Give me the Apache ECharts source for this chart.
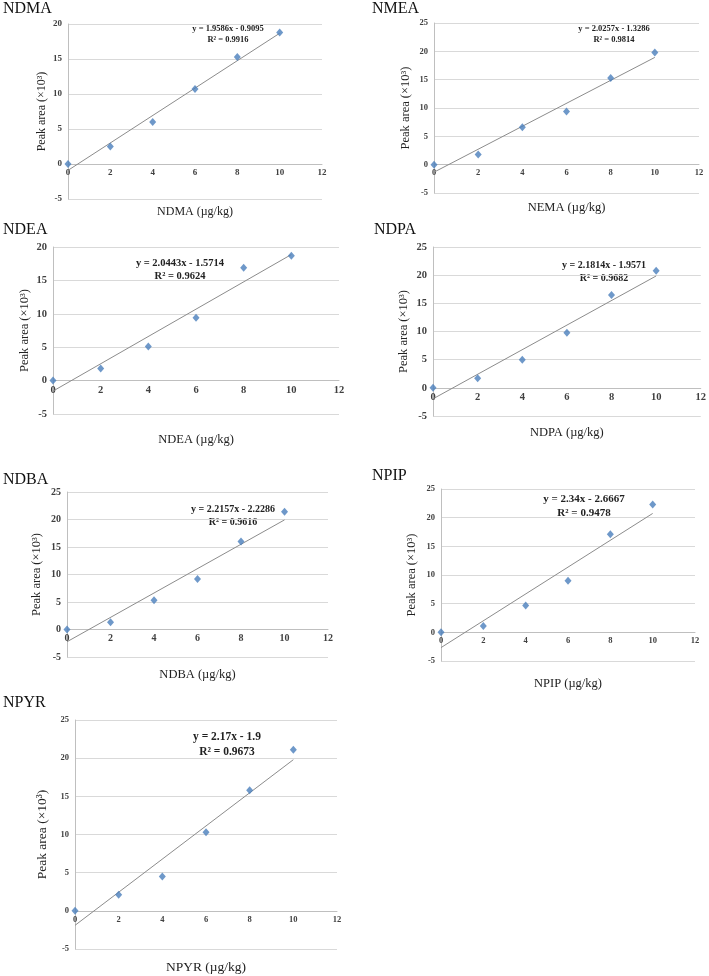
<!DOCTYPE html>
<html>
<head>
<meta charset="utf-8">
<script src="https://cdn.jsdelivr.net/npm/echarts@6/dist/echarts.min.js"></script>
<style>
  html, body { margin: 0; padding: 0; background: #fff; }
  #main { width: 709px; height: 976px; }
</style>
</head>
<body>
<div id="main"></div>
<script>
// ********
// * Data *
// ********

// Spiked concentration (µg/kg), same for every analyte
const concentrations = [0, 2, 4, 6, 8, 10];

const analyteNames = ["NDMA", "NMEA", "NDEA", "NDPA", "NDBA", "NPIP", "NPYR"];
const xAxisNames = [
  "NDMA (µg/kg)", "NEMA (µg/kg)", "NDEA (µg/kg)", "NDPA (µg/kg)",
  "NDBA (µg/kg)", "NPIP (µg/kg)", "NPYR (µg/kg)",
];

// Peak area (x10^3)
const ndmaArea = [0, 2.5, 6.0, 10.7, 15.3, 18.8];
const nmeaArea = [0, 1.8, 6.6, 9.4, 15.3, 19.8];
const ndeaArea = [0, 1.8, 5.1, 9.4, 16.9, 18.7];
const ndpaArea = [0, 1.7, 5.0, 9.8, 16.5, 20.8];
const ndbaArea = [0, 1.3, 5.3, 9.2, 16.0, 21.4];
const npipArea = [0, 1.1, 4.7, 9.0, 17.1, 22.3];
const npyrArea = [0, 2.1, 4.5, 10.3, 15.8, 21.1];
const peakAreas = [ndmaArea, nmeaArea, ndeaArea, ndpaArea, ndbaArea, npipArea, npyrArea];

// Linear fit y = slope * x + intercept
const slopes = [1.9586, 2.0257, 2.0443, 2.1814, 2.2157, 2.34, 2.17];
const intercepts = [-0.9095, -1.3286, -1.5714, -1.9571, -2.2286, -2.6667, -1.9];
const r2Values = ["0.9916", "0.9814", "0.9624", "0.9682", "0.9616", "0.9478", "0.9673"];

// Y axis range
const yMins = [-5, -5, -5, -5, -5, -5, -5];
const yMaxes = [20, 25, 20, 25, 25, 25, 25];

// **********
// * Layout *
// **********

// One entry per panel: plot box, text anchors and font sizes
// xGap is measured from the zero line (where the x axis sits)
const panels = [
  { left: 68,  top: 24,  width: 254, height: 175, titleAt: [3, 9],     eqAt: [228, 29],  xGap: 42, yGap: 20, tick: 9,    name: 12,   eq: 8.5,  title: 16 },
  { left: 434, top: 23,  width: 265, height: 170, titleAt: [372, 9],   eqAt: [614, 29],  xGap: 37, yGap: 22, tick: 8.5,  name: 12.5, eq: 8.5,  title: 16 },
  { left: 53,  top: 247, width: 286, height: 167, titleAt: [3, 230],   eqAt: [180, 263], xGap: 53, yGap: 22, tick: 10.5, name: 12.5, eq: 10.5, title: 16 },
  { left: 433, top: 247, width: 268, height: 169, titleAt: [374, 230], eqAt: [604, 265], xGap: 38, yGap: 23, tick: 10.5, name: 12.5, eq: 10,   title: 16 },
  { left: 67,  top: 492, width: 261, height: 165, titleAt: [3, 480],   eqAt: [233, 509], xGap: 39, yGap: 24, tick: 10,   name: 12.5, eq: 10,   title: 16 },
  { left: 441, top: 489, width: 254, height: 172, titleAt: [372, 476], eqAt: [584, 499], xGap: 45, yGap: 23, tick: 8.5,  name: 12.5, eq: 11,   title: 16 },
  { left: 75,  top: 720, width: 262, height: 229, titleAt: [3, 703],   eqAt: [227, 737], xGap: 50, yGap: 26, tick: 8.5,  name: 13.5, eq: 11.5, title: 16 },
];

const serif = "'Liberation Serif', 'Times New Roman', serif";
const markerColor = "#4a7ebb";
const gridColor = "#d9d9d9";
const axisColor = "#bfbfbf";

const chart = echarts.init(document.getElementById("main"));

function equationText(i) {
  const sign = intercepts[i] < 0 ? "-" : "+";
  return `y = ${slopes[i]}x ${sign} ${Math.abs(intercepts[i])}`;
}

const grids = [];
const xAxes = [];
const yAxes = [];
const series = [];
const texts = [];

for (const [i, p] of panels.entries()) {
  grids.push({ left: p.left, top: p.top, width: p.width, height: p.height, containLabel: false });

  // Lift the x axis (line, labels, name) from the grid bottom up to y = 0
  const zeroOffset = -p.height * (0 - yMins[i]) / (yMaxes[i] - yMins[i]);

  xAxes.push({
    gridIndex: i,
    type: "value",
    min: 0,
    max: 12,
    interval: 2,
    offset: zeroOffset,
    name: xAxisNames[i],
    nameLocation: "middle",
    nameGap: p.xGap,
    nameTextStyle: { fontFamily: serif, fontSize: p.name, color: "#222" },
    axisLine: { onZero: false, lineStyle: { color: axisColor, width: 1 } },
    axisTick: { show: false },
    axisLabel: { fontFamily: serif, fontWeight: "bold", fontSize: p.tick, color: "#404040", margin: 4 },
    splitLine: { show: false },
  });

  yAxes.push({
    gridIndex: i,
    type: "value",
    min: yMins[i],
    max: yMaxes[i],
    interval: 5,
    name: "Peak area (×10³)",
    nameLocation: "middle",
    nameRotate: 90,
    nameGap: p.yGap,
    nameTextStyle: { fontFamily: serif, fontSize: p.name, color: "#222" },
    axisLine: { show: true, onZero: false, lineStyle: { color: axisColor, width: 1 } },
    axisTick: { show: false },
    axisLabel: { fontFamily: serif, fontWeight: "bold", fontSize: p.tick, color: "#404040", margin: 6 },
    splitLine: { show: true, lineStyle: { color: gridColor, width: 1 } },
  });

  // Fitted line across the measured range
  const xFirst = concentrations[0];
  const xLast = concentrations[concentrations.length - 1];
  series.push({
    name: analyteNames[i] + " fit",
    type: "line",
    xAxisIndex: i,
    yAxisIndex: i,
    data: [
      [xFirst, slopes[i] * xFirst + intercepts[i]],
      [xLast, slopes[i] * xLast + intercepts[i]],
    ],
    showSymbol: false,
    symbol: "none",
    lineStyle: { color: "#8c8c8c", width: 1 },
    silent: true,
    z: 2,
  });

  series.push({
    name: analyteNames[i],
    type: "scatter",
    xAxisIndex: i,
    yAxisIndex: i,
    data: concentrations.map((x, k) => [x, peakAreas[i][k]]),
    symbol: "diamond",
    symbolSize: [7, 8],
    itemStyle: { color: markerColor },
    z: 3,
  });

  // Panel title
  texts.push({
    type: "text",
    x: p.titleAt[0],
    y: p.titleAt[1],
    style: {
      text: analyteNames[i],
      font: `${p.title}px ${serif}`,
      fill: "#111",
      textAlign: "left",
      textVerticalAlign: "middle",
      align: "left",
      verticalAlign: "middle",
    },
  });

  // Equation + R², anchor given as first-line centre
  texts.push({
    type: "text",
    x: p.eqAt[0],
    y: p.eqAt[1] - p.eq * 0.65,
    style: {
      text: equationText(i) + "\nR² = " + r2Values[i],
      font: `bold ${p.eq}px ${serif}`,
      lineHeight: p.eq * 1.3,
      fill: "#222",
      textAlign: "center",
      textVerticalAlign: "top",
      align: "center",
      verticalAlign: "top",
    },
  });
}

chart.setOption({
  animation: false,
  backgroundColor: "#fff",
  grid: grids,
  xAxis: xAxes,
  yAxis: yAxes,
  series: series,
  graphic: { elements: texts },
});
</script>
</body>
</html>
